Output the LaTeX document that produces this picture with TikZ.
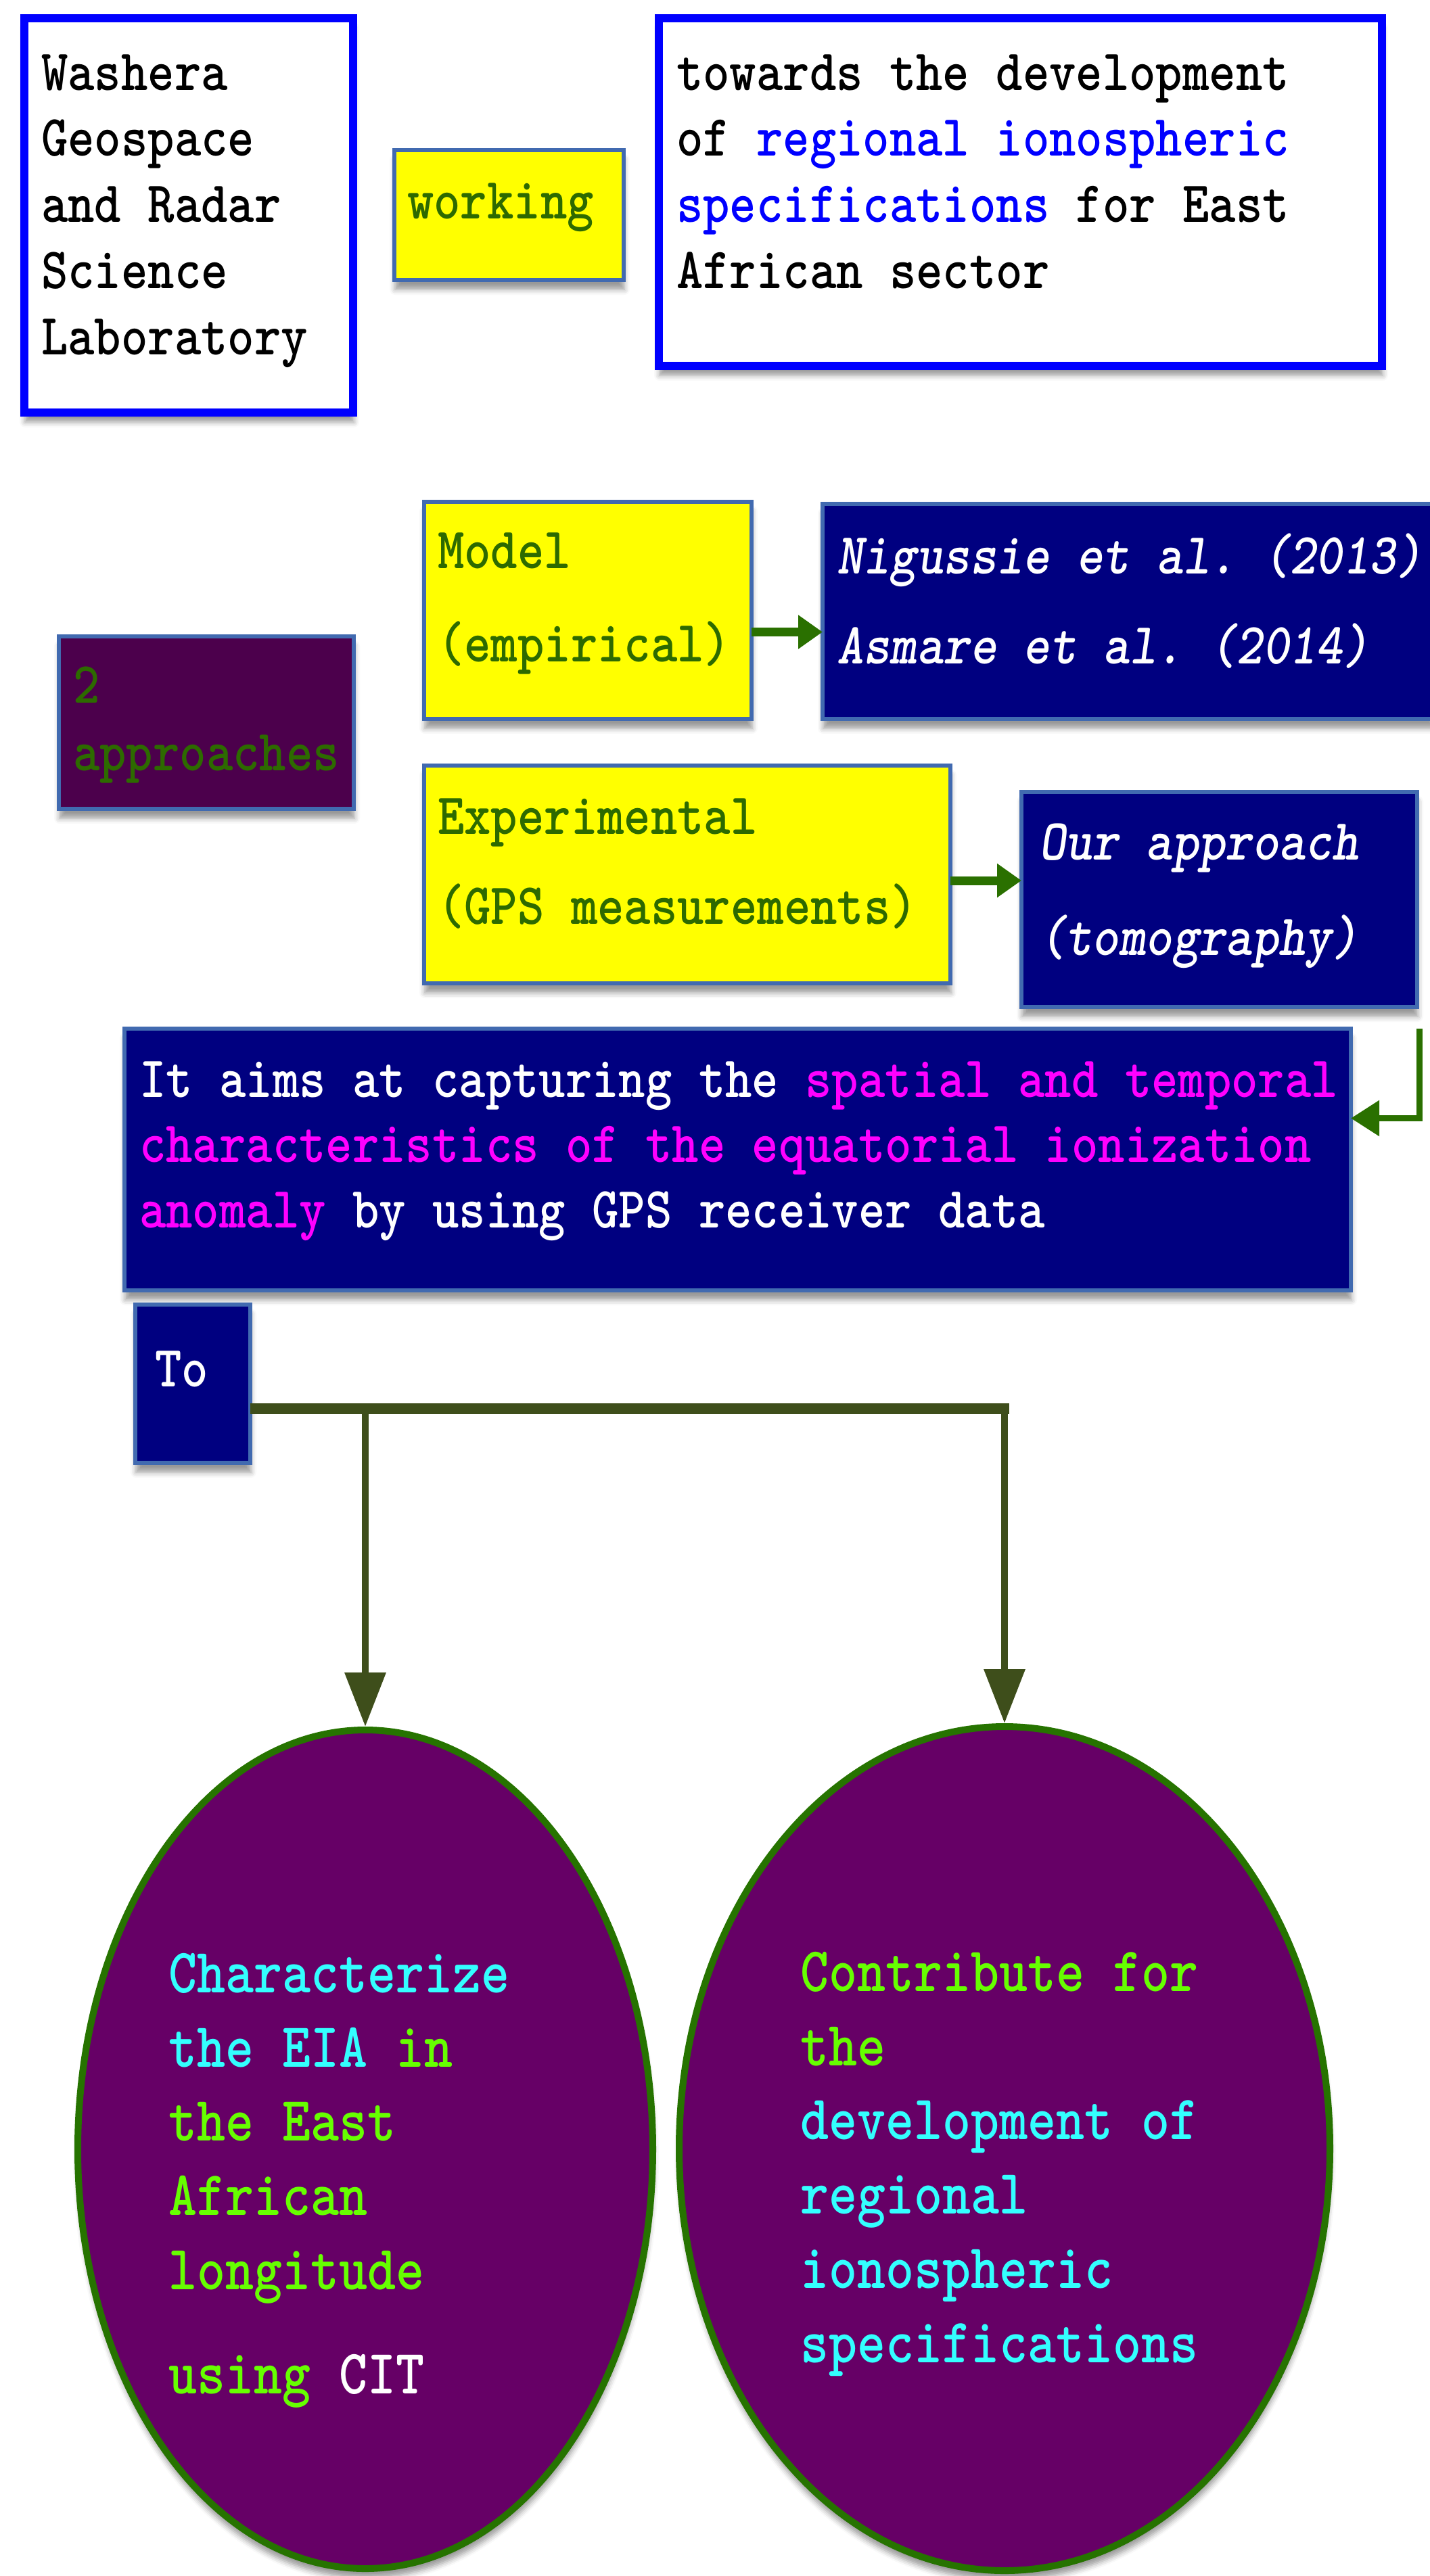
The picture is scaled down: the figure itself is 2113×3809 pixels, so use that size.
\documentclass[tikz,border=0pt]{standalone}
\usepackage{fontspec}
\usepackage{graphicx}
\usetikzlibrary{arrows.meta,shapes.geometric,shadows.blur}
\definecolor{bbord}{HTML}{0000FF}
\definecolor{steel}{HTML}{416AB0}
\definecolor{yel}{HTML}{FFFF00}
\definecolor{tgreen}{HTML}{2D6A00}
\definecolor{navy}{HTML}{000080}
\definecolor{dpurple}{HTML}{4C004C}
\definecolor{epurple}{HTML}{660066}
\definecolor{egreen}{HTML}{267300}
\definecolor{agreen}{HTML}{2A7000}
\definecolor{olivel}{HTML}{3E4E1B}
\definecolor{tblue}{HTML}{0000FF}
\definecolor{mg}{HTML}{FF00FF}
\definecolor{cy}{HTML}{33FFFF}
\definecolor{gr}{HTML}{66FF00}
\newcommand{\ml}[4][1.15]{\scalebox{1}[#1]{\fontsize{#2}{#3}\selectfont\frenchspacing\begin{tabular}[t]{@{}l@{}}#4\end{tabular}}}
\begin{document}
\begin{tikzpicture}[x=1pt,y=-1pt,
  shd/.style={blur shadow={shadow xshift=1pt, shadow yshift=-14pt, shadow blur radius=8pt, shadow opacity=40}},
  box/.style={draw, rectangle, inner sep=0pt, outer sep=0pt},
  bluebox/.style={box, draw=bbord, line width=12pt, fill=white, shd},
  steelbox/.style={box, draw=steel, line width=6pt, shd},
  txt/.style={inner sep=0pt, anchor=base west, font=\ttfamily\bfseries},
  garrow/.style={draw=agreen, line width=13pt, -{Triangle[width=48pt,length=36pt]}},
  oarrow/.style={draw=olivel, line width=10pt, -{Triangle[width=59pt,length=80pt]}},
  ell/.style={ellipse, draw=egreen, line width=10pt, fill=epurple, inner sep=0pt, shd}
]
\useasboundingbox (0,0) rectangle (2113,3809);

% top row
\node[bluebox, minimum width=486pt, minimum height=583pt] (lab) at (279,318.5) {};
\node[steelbox, fill=yel, minimum width=339pt, minimum height=192pt] (work) at (752.5,318) {};
\node[bluebox, minimum width=1069pt, minimum height=514pt] (tow) at (1508.5,284) {};

\node[txt] (labt) at (61,133) {\ml{75}{85.2}{Washera\\Geospace\\and Radar\\Science\\Laboratory}};
\node[txt, text=tgreen] (workt) at (602,323) {\ml{75}{85}{working}};
\node[txt] (towt) at (1000,133) {\ml{75}{85.2}{towards the development\\of \textcolor{tblue}{regional ionospheric}\\\textcolor{tblue}{specifications} for East\\African sector}};

% approaches
\node[steelbox, fill=dpurple, minimum width=436pt, minimum height=255pt] (appr) at (305,1068.5) {};
\node[steelbox, fill=yel, minimum width=484pt, minimum height=321pt] (model) at (869,902.5) {};
\node[steelbox, fill=navy, minimum width=904pt, minimum height=318pt] (nig) at (1668,904) {};
\node[steelbox, fill=yel, minimum width=778pt, minimum height=322pt] (exp) at (1016,1293) {};
\node[steelbox, fill=navy, minimum width=585pt, minimum height=318pt] (our) at (1802.5,1330) {};

\node[txt, text=tgreen] (apprt) at (108,1039) {\ml{75}{87}{2\\approaches}};
\node[txt, text=tgreen] (modelt) at (647,840) {\ml{75}{120}{Model\\(empirical)}};
\node[txt, text=white, font=\ttfamily\bfseries\itshape] (nigt) at (1237,848) {\ml{75}{115.7}{Nigussie et al. (2013)\\Asmare et al. (2014)}};
\node[txt, text=tgreen] (expt) at (647,1233) {\ml{75}{115.7}{Experimental\\(GPS measurements)}};
\node[txt, text=white, font=\ttfamily\bfseries\itshape] (ourt) at (1536,1271) {\ml{75}{122.6}{Our approach\\(tomography)}};

\draw[garrow] ([yshift=-32pt]model.east) -- ([yshift=-32pt]model.east -| nig.west);
\draw[garrow] ([yshift=-9pt]exp.east) -- ([yshift=-9pt]exp.east -| our.west);

% aims box
\node[steelbox, fill=navy, minimum width=1813pt, minimum height=387pt] (big) at (1090.5,1714.5) {};
\node[txt, text=white] (bigt) at (206,1622) {\ml{75}{84.3}{It aims at capturing the \textcolor{mg}{spatial and temporal}\\\textcolor{mg}{characteristics of the equatorial ionization}\\\textcolor{mg}{anomaly} by using GPS receiver data}};
\coordinate (elb) at (2098,1521);
\draw[garrow, line width=9pt, -{Triangle[width=51pt,length=42pt]}] (elb) |- ([yshift=61pt]big.east);

% To box and bus
\node[steelbox, fill=navy, minimum width=170pt, minimum height=234pt] (to) at (285,2046) {};
\node[txt, text=white] (tot) at (229,2050) {\ml{75}{85}{To}};

\node[ell, minimum width=850pt, minimum height=1240pt] (e1) at (540,3178) {};
\node[ell, minimum width=962pt, minimum height=1248pt] (e2) at (1485,3177) {};

\coordinate (busL) at (540,2083);
\coordinate (busR) at (1485,2083);
\coordinate (busE) at (1492,2083);
\draw[draw=olivel, line width=16pt] ([yshift=-37pt]to.east) -- (busE);
\draw[oarrow] (busL) -- (e1.north);
\draw[oarrow] (busR) -- (e2.north);

\node[txt] (e1t) at (249,2946) {\ml[1.17]{80}{94}{\textcolor{cy}{Characterize}\\\textcolor{cy}{the EIA} \textcolor{gr}{in}\\\textcolor{gr}{the East}\\\textcolor{gr}{African}\\\textcolor{gr}{longitude}\\[37.6pt]\textcolor{gr}{using} \textcolor{white}{CIT}}};
\node[txt] (e2t) at (1183,2944) {\ml[1.17]{80}{94}{\textcolor{gr}{Contribute for}\\\textcolor{gr}{the}\\\textcolor{cy}{development of}\\\textcolor{cy}{regional}\\\textcolor{cy}{ionospheric}\\\textcolor{cy}{specifications}}};
\end{tikzpicture}
\end{document}
